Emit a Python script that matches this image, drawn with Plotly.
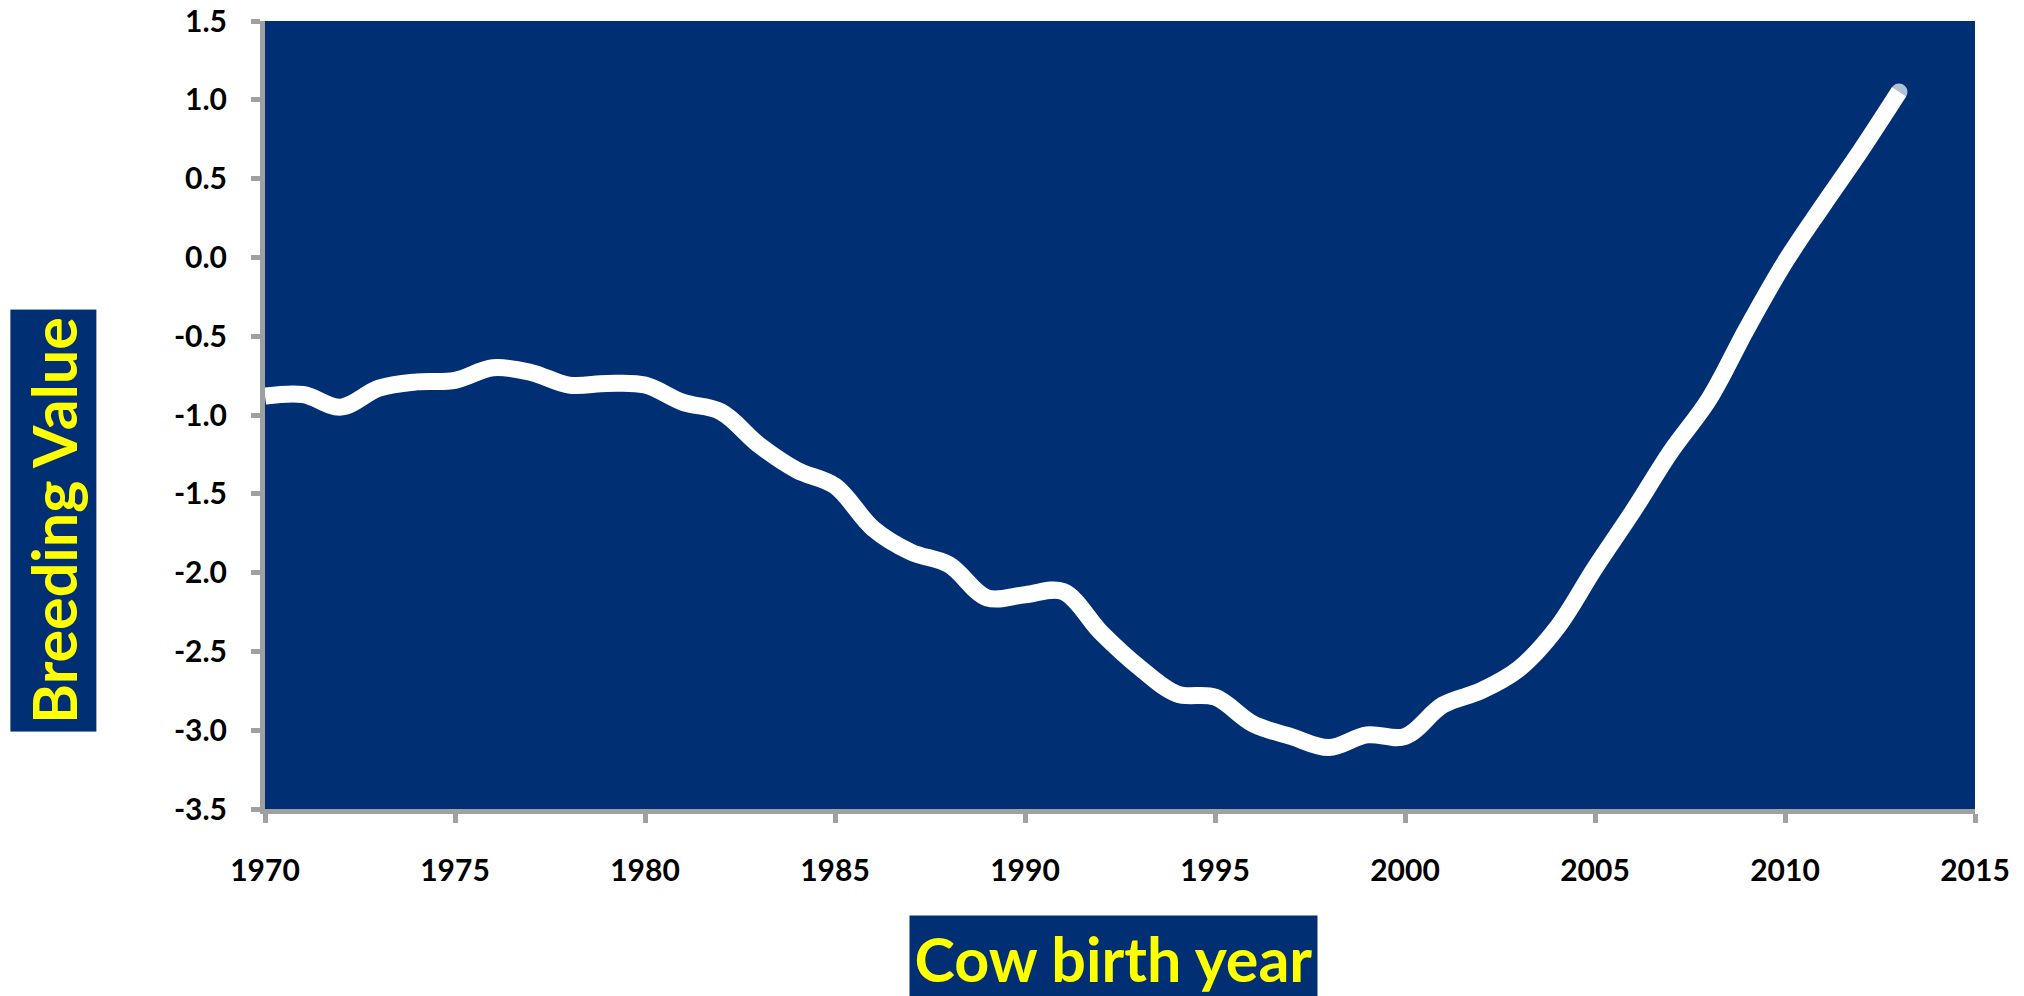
import plotly.graph_objects as go

# Average breeding value by cow birth year
years = list(range(1970, 2014))
breeding_value = [
    -0.88, -0.87, -0.95, -0.83, -0.79, -0.78, -0.70, -0.73, -0.81, -0.80,
    -0.81, -0.92, -0.98, -1.19, -1.35, -1.45, -1.72, -1.87, -1.95, -2.16,
    -2.14, -2.12, -2.38, -2.60, -2.77, -2.79, -2.96, -3.04, -3.11, -3.03,
    -3.04, -2.84, -2.75, -2.61, -2.35, -1.97, -1.61, -1.23, -0.90, -0.45,
    -0.03, 0.33, 0.68, 1.05,
]

x_ticks = [1970, 1975, 1980, 1985, 1990, 1995, 2000, 2005, 2010, 2015]
y_ticks = [1.5, 1.0, 0.5, 0.0, -0.5, -1.0, -1.5, -2.0, -2.5, -3.0, -3.5]

NAVY = "#003073"
YELLOW = "#FFFF00"
GREY = "#A0A0A0"
FONT = "Lato"
LINE_W = 17

# round end cap on the last point of the curve
cap_sizes = [0] * (len(years) - 1) + [LINE_W]

fig = go.Figure(
    go.Scatter(
        x=years,
        y=breeding_value,
        mode="lines+markers",
        line=dict(color="white", width=LINE_W, shape="spline", smoothing=1.0),
        marker=dict(color="white", size=cap_sizes, line=dict(width=0)),
        hoverinfo="skip",
    )
)

axis_common = dict(
    showgrid=False,
    zeroline=False,
    showline=True,
    linecolor=GREY,
    linewidth=5,
    ticks="outside",
    ticklen=9,
    tickwidth=5,
    tickcolor=GREY,
    automargin=False,
    ticklabeloverflow="allow",
    tickfont=dict(family=FONT, size=30, color="black", weight="bold"),
)

fig.update_xaxes(
    range=[1970, 2015],
    tickvals=x_ticks,
    ticktext=[str(v) for v in x_ticks],
    ticklabelstandoff=22,
    **axis_common,
)
fig.update_yaxes(
    range=[-3.5, 1.5],
    tickvals=y_ticks,
    ticktext=[f"{v:.1f}" for v in y_ticks],
    ticklabelstandoff=18,
    **axis_common,
)

fig.add_annotation(
    text="<b>Breeding Value</b>",
    xref="paper", yref="paper",
    x=-0.1237, y=0.3660,
    xanchor="center", yanchor="middle",
    textangle=-90,
    width=421, height=85,
    bgcolor=NAVY,
    borderpad=0,
    showarrow=False,
    font=dict(family=FONT, size=61, color=YELLOW),
)

fig.add_annotation(
    text="<b>Cow birth year</b>",
    xref="paper", yref="paper",
    x=0.4962, y=-0.189,
    xanchor="center", yanchor="middle",
    width=407, height=84,
    bgcolor=NAVY,
    borderpad=0,
    showarrow=False,
    font=dict(family=FONT, size=61, color=YELLOW),
)

fig.update_layout(
    width=2024,
    height=996,
    margin=dict(l=265, r=49, t=21, b=187, autoexpand=False),
    paper_bgcolor="white",
    plot_bgcolor=NAVY,
    showlegend=False,
)

fig.write_html("out.html")
